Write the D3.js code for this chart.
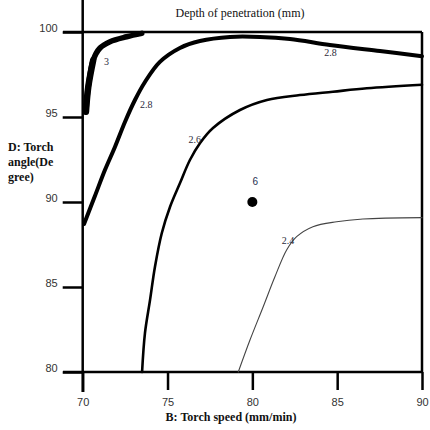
<!DOCTYPE html>
<html><head><meta charset="utf-8">
<script src="https://cdn.jsdelivr.net/npm/d3@7"></script>
<style>body{margin:0;background:#fff}svg{display:block}</style>
</head><body>
<svg id="c" width="430" height="430"></svg>
<script>
// ---- data ----
const xTicks = [70, 75, 80, 85, 90];
const yTicks = [80, 85, 90, 95, 100];
const contourLevels = ["3", "2.8", "2.6", "2.4"];
const contour3 = [[70.19,95.31],[70.33,96.78],[70.62,98.35],[71.02,99.06],[71.61,99.43],[72.59,99.72],[73.48,99.92]];
const contour28 = [[70.08,88.71],[70.72,90.35],[71.31,91.88],[71.90,93.24],[72.49,94.71],[73.08,96.0],[73.67,97.06],[74.55,98.24],[75.73,99.06],[76.91,99.47],[78.68,99.71],[80.45,99.71],[82.22,99.59],[84.57,99.24],[87.52,98.88],[90,98.58]];
const contour26 = [[73.5,80],[73.67,82.29],[73.97,84.24],[74.26,86.19],[74.66,88.16],[75.15,89.72],[75.73,91.1],[76.32,92.47],[76.92,93.47],[77.68,94.35],[79.27,95.41],[80.86,96.0],[82.8,96.29],[84.75,96.49],[86.75,96.69],[90,96.9]];
const contour24 = [[79.17,80],[79.86,81.88],[80.64,83.84],[81.33,85.6],[82.02,87.18],[82.61,87.96],[83.57,88.55],[84.97,88.84],[86.52,89.0],[90,89.08]];
const designPoint = [80, 90];
const designPointLabel = "6";
const labelPos3 = [71.4, 98.2];
const labelPos28a = [73.75, 95.65];
const labelPos28b = [84.6, 98.72];
const labelPos26 = [76.6, 93.6];
const labelPos24 = [82.1, 87.65];

// ---- layout ----
const svg = d3.select("#c");
const x = d3.scaleLinear().domain([70, 90]).range([82.7, 422]);
const y = d3.scaleLinear().domain([80, 100]).range([372, 32]);

// frame (top & right)
svg.append("line").attr("x1", 63).attr("x2", x(90)).attr("y1", y(100)).attr("y2", y(100))
  .attr("stroke", "#000").attr("stroke-width", 2.5);
svg.append("line").attr("x1", x(90)).attr("x2", x(90)).attr("y1", y(100)).attr("y2", y(80))
  .attr("stroke", "#000").attr("stroke-width", 2.5);

// axes
const xAxis = d3.axisBottom(x).tickValues(xTicks).tickSize(18).tickPadding(8).tickFormat(d3.format("d"));
const gx = svg.append("g").attr("transform", `translate(0,${y(80)})`).call(xAxis);
gx.select(".domain").attr("d", `M63,0H${x(90)}`).attr("stroke-width", 2.5);
gx.selectAll(".tick line").attr("stroke-width", 2.5);
gx.selectAll(".tick").filter(d => d === 70).select("line").attr("y2", 20);
gx.selectAll("text").attr("font-family", "Liberation Sans, Arial, sans-serif").attr("font-size", 11).attr("fill", "#333");

const yAxis = d3.axisLeft(y).tickValues(yTicks).tickSize(20).tickPadding(5).tickFormat(d3.format("d"));
const gy = svg.append("g").attr("transform", `translate(${x(70)},0)`).call(yAxis);
gy.select(".domain").attr("d", `M0,0V${y(80)+20}`).attr("stroke-width", 2.5);
gy.selectAll(".tick line").attr("stroke-width", 2.5);
gy.selectAll("text").attr("font-family", "Liberation Sans, Arial, sans-serif").attr("font-size", 11).attr("fill", "#333").attr("dy", "-0.05em");

// contours
const line = d3.line().x(d => x(d[0])).y(d => y(d[1])).curve(d3.curveCatmullRom.alpha(0.5));
const contours = [
  {pts: contour3, w: 5.5, c: "#000"},
  {pts: contour28, w: 4, c: "#000"},
  {pts: contour26, w: 2.6, c: "#000"},
  {pts: contour24, w: 1.1, c: "#444"}
];
svg.append("g").selectAll("path").data(contours).join("path")
  .attr("d", d => line(d.pts)).attr("fill", "none")
  .attr("stroke", d => d.c).attr("stroke-width", d => d.w).attr("stroke-linecap", "round");
// thicker base of the "3" contour
svg.append("path").attr("d", line(contour3.slice(0, 3))).attr("fill", "none")
  .attr("stroke", "#000").attr("stroke-width", 6.5).attr("stroke-linecap", "round");

// contour labels
const labels = [
  {t: contourLevels[0], p: labelPos3},
  {t: contourLevels[1], p: labelPos28a},
  {t: contourLevels[1], p: labelPos28b},
  {t: contourLevels[2], p: labelPos26},
  {t: contourLevels[3], p: labelPos24}
];
svg.append("g").selectAll("text").data(labels).join("text")
  .attr("x", d => x(d.p[0])).attr("y", d => y(d.p[1]))
  .attr("text-anchor", "middle").attr("dominant-baseline", "middle")
  .attr("font-family", "Liberation Serif, Times New Roman, serif").attr("font-size", 10)
  .attr("fill", "#2b2b3b").text(d => d.t);

// design point
svg.append("circle").attr("cx", x(designPoint[0])).attr("cy", y(designPoint[1])).attr("r", 5).attr("fill", "#000");
svg.append("text").attr("x", x(designPoint[0]) + 3).attr("y", y(designPoint[1]) - 20)
  .attr("text-anchor", "middle").attr("dominant-baseline", "middle")
  .attr("font-family", "Liberation Sans, Arial, sans-serif").attr("font-size", 10)
  .attr("fill", "#1f3050").text(designPointLabel);

// titles
svg.append("text").attr("x", 240).attr("y", 17).attr("text-anchor", "middle")
  .attr("font-family", "Liberation Serif, Times New Roman, serif").attr("font-size", 12)
  .attr("fill", "#111").text("Depth of penetration (mm)");
svg.append("text").attr("x", 231).attr("y", 421).attr("text-anchor", "middle")
  .attr("font-family", "Liberation Serif, Times New Roman, serif").attr("font-size", 12).attr("font-weight", "bold")
  .attr("fill", "#111").text("B: Torch speed (mm/min)");
const yt = svg.append("text").attr("font-family", "Liberation Serif, Times New Roman, serif")
  .attr("font-size", 12).attr("font-weight", "bold").attr("fill", "#111");
["D: Torch", "angle(De", "gree)"].forEach((s, i) => {
  yt.append("tspan").attr("x", 8).attr("y", 151 + i * 15).text(s);
});
</script>
</body></html>
